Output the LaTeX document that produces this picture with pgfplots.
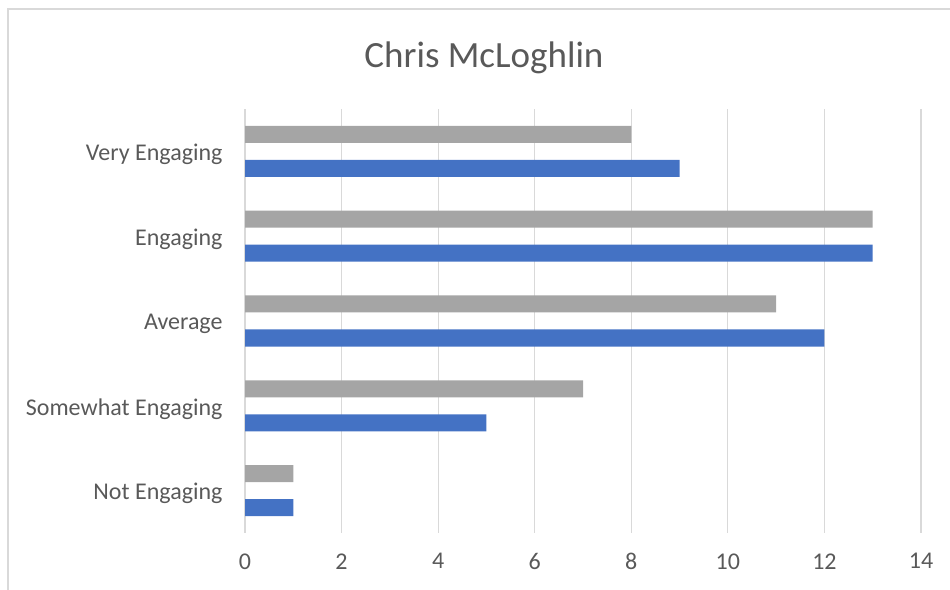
\documentclass[border=0pt]{standalone}
\usepackage{pgfplots}
\pgfplotsset{compat=1.18}
\usepackage{fontspec}
\setmainfont{Carlito}
\definecolor{barblue}{HTML}{4472C4}
\definecolor{bargray}{HTML}{A5A5A5}
\definecolor{txt}{HTML}{595959}
\definecolor{gridc}{HTML}{D9D9D9}
\begin{document}
\begin{tikzpicture}
	\useasboundingbox (0,0) rectangle (950bp,590bp);
	\draw[gridc, line width=1.2bp] (8bp,0) -- (8bp,581bp) -- (950bp,581bp);
	\node[txt, font=\fontsize{37bp}{42bp}\selectfont] at (484bp,532bp) {Chris McLoghlin};
	\begin{axis}[
			at={(245bp,57bp)}, anchor=south west,
			scale only axis,
			width=676bp, height=424bp,
			xmin=0, xmax=14,
			ymin=-0.5, ymax=4.5,
			xtick={0,2,...,14},
			ytick={0,1,2,3,4},
			yticklabels={Not Engaging,Somewhat Engaging,Average,Engaging,Very Engaging},
			axis line style={draw=none},
			major tick length=0pt,
			xmajorgrids,
			grid style={gridc, line width=1.2bp},
			tick label style={txt, font=\fontsize{24bp}{28bp}\selectfont},
			xticklabel style={yshift=-17bp},
			yticklabel style={xshift=-19bp, yshift=-3bp},
			/pgf/number format/assume math mode=true,
			xbar, bar width=17bp,
		]
		\addplot[fill=bargray, draw=none, bar shift=17bp]
		coordinates {(1,0) (7,1) (11,2) (13,3) (8,4)};
		\addplot[fill=barblue, draw=none, bar shift=-17bp]
		coordinates {(1,0) (5,1) (12,2) (13,3) (9,4)};
	\end{axis}
\end{tikzpicture}
\end{document}
